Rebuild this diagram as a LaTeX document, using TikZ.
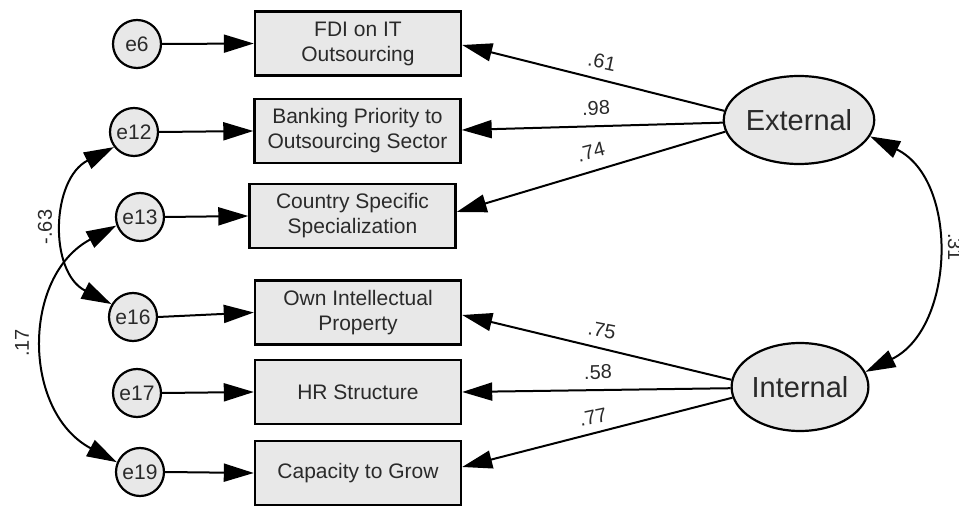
\documentclass[tikz,border=0pt]{standalone}
\usepackage{fontspec}
\setmainfont{Liberation Sans}
\usetikzlibrary{arrows.meta,shapes.geometric}
\definecolor{nodefill}{HTML}{E8E8E8}
\definecolor{txt}{HTML}{2A2A2A}
\begin{document}
\begin{tikzpicture}[x=1pt,y=1pt,
  obs/.style={draw, line width=2.4pt, fill=nodefill, minimum width=206pt, minimum height=64pt, inner sep=0pt, align=center, font=\fontsize{21}{25}\selectfont, text=txt},
  err/.style={circle, draw, line width=2.2pt, fill=nodefill, minimum size=48pt, inner sep=0pt, font=\fontsize{21}{25}\selectfont, text=txt},
  lat/.style={ellipse, draw, line width=2.2pt, fill=nodefill, minimum width=133pt, minimum height=88pt, inner sep=0pt, font=\fontsize{29}{34}\selectfont, text=txt},
  reg/.style={line width=2pt, -{Triangle[length=30pt,width=18pt]}},
  cov/.style={line width=2pt, {Triangle[length=30pt,width=18pt]}-{Triangle[length=30pt,width=18pt]}},
  num/.style={font=\fontsize{20}{24}\selectfont, inner sep=0pt, text=txt}]
\useasboundingbox (0,0) rectangle (959,509);
% error terms
\node[err] (e6)  at (137,465) {e6};
\node[err] (e12) at (134,377) {e12};
\node[err] (e13) at (140,292) {e13};
\node[err] (e16) at (133,192) {e16};
\node[err] (e17) at (137,116) {e17};
\node[err] (e19) at (140,37)  {e19};
% observed
\node[obs] (fdi)  at (358,465.5) {FDI on IT\\Outsourcing};
\node[obs] (bank) at (357.5,378) {Banking Priority to\\Outsourcing Sector};
\node[obs] (ctry) at (352.5,293) {Country Specific\\Specialization};
\node[obs] (own)  at (358,196.5) {Own Intellectual\\Property};
\node[obs] (hr)   at (358,117) {HR Structure};
\node[obs] (cap)  at (358,36) {Capacity to Grow};
% latent
\node[lat] (ext) at (799,389) {External};
\node[lat] (int) at (800,122) {Internal};
% error arrows
\draw[reg] (e6.east) -- (fdi.west);
\draw[reg] (e12.east) -- (bank.west);
\draw[reg] (e13.east) -- (ctry.west);
\draw[reg] (e16.east) -- (own.west);
\draw[reg] (e17.east) -- (hr.west);
\draw[reg] (e19.east) -- (cap.west);
% loadings
\draw[reg] (ext.173) -- ([yshift=-1.5pt]fdi.east);
\draw[reg] (ext.182) -- ([yshift=1pt]bank.east);
\draw[reg] (ext.189) -- ([yshift=4pt]ctry.east);
\draw[reg] (int.174) -- ([yshift=-2.5pt]own.east);
\draw[reg] (int.181) -- (hr.east);
\draw[reg] (int.189) -- ([yshift=6pt]cap.east);
% covariances
\draw[cov] (e12.217) to[out=207,in=153,looseness=1.15] (e16.149);
\draw[cov] (e13.200) to[out=208,in=152,looseness=1.16] (e19.157);
\draw[cov] (ext.347) to[out=-26,in=26,looseness=1.08] (int.13);
% labels
\node[num,rotate=-12] (l61) at (602,447) {.61};
\node[num,rotate=2]   (l98) at (596,401) {.98};
\node[num,rotate=14]  (l74) at (591,357) {.74};
\node[num,rotate=-11] (l75) at (602,179) {.75};
\node[num,rotate=1]   (l58) at (598,137) {.58};
\node[num,rotate=12]  (l77) at (593,92)  {.77};
\node[num,rotate=90]  (l63) at (45,282)  {-.63};
\node[num,rotate=90]  (l17) at (22,166)  {.17};
\node[num,rotate=-90] (l31) at (955,262) {.31};
\end{tikzpicture}
\end{document}
